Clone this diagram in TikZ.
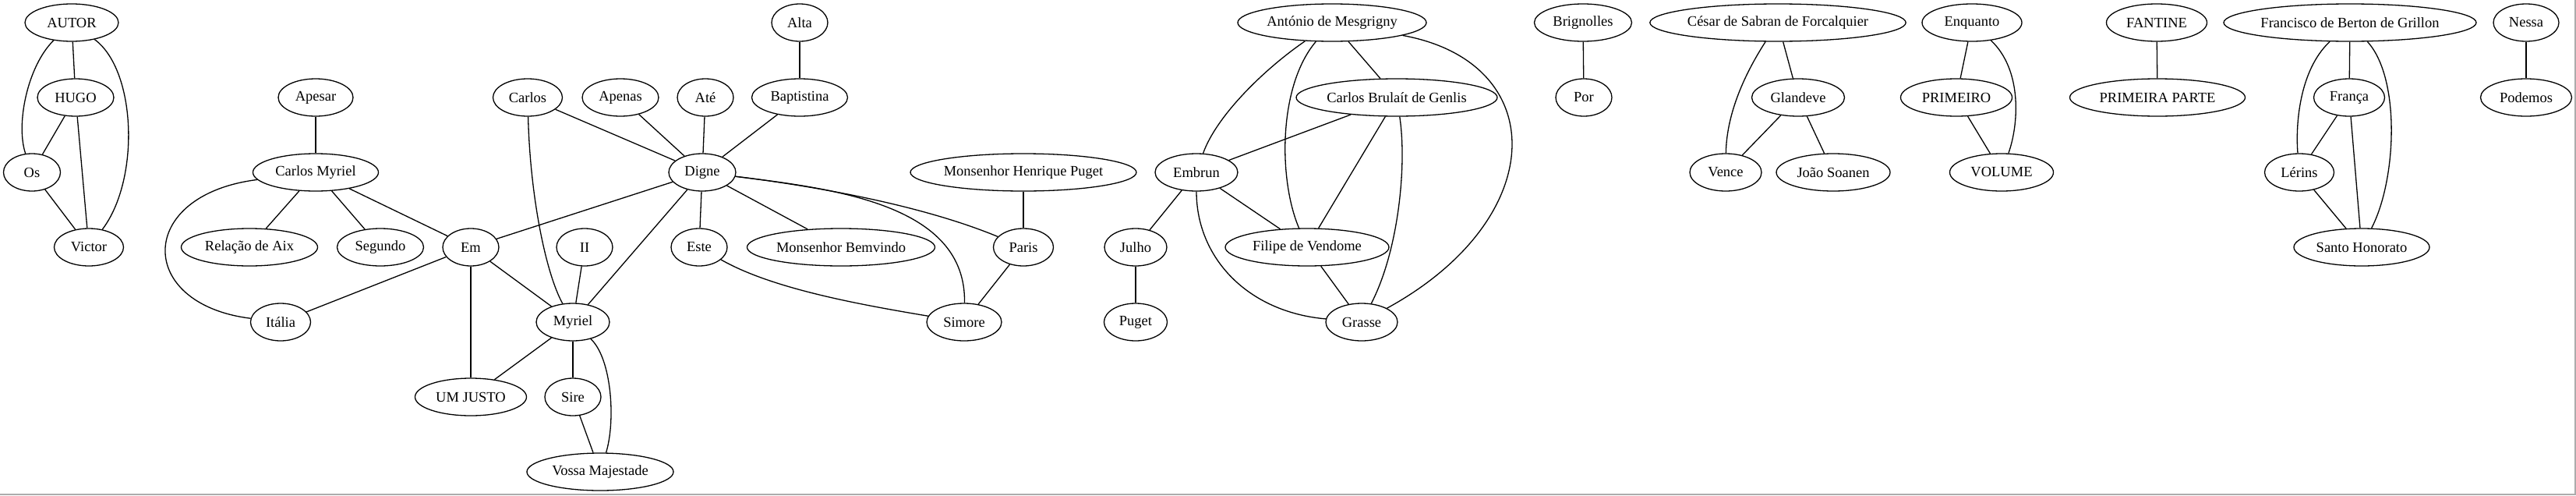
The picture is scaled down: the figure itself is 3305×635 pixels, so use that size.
\documentclass[tikz,border=0pt]{standalone}
\usepackage{fontspec}
\setmainfont{Liberation Serif}
\usetikzlibrary{shapes.geometric}
\tikzset{
  nd/.style={draw, ellipse, line width=1.3pt, inner sep=0pt, minimum height=48pt, font=\fontsize{18.5}{22}\selectfont},
  ed/.style={line width=1.3pt}
}
\newcommand\gnode[5]{\node[nd, minimum width=#4pt] (#1) at (#2,#3) {#5};}
\begin{document}
\begin{tikzpicture}[x=1pt,y=-1pt]
\useasboundingbox (0,0) rectangle (3305,635);
\fill[white] (0,0) rectangle (3305,635);
\fill[gray!65] (0,632.5) rectangle (3305,635);
\fill[gray!65] (3302.5,0) rectangle (3305,635);

\gnode{autor}{92}{29}{120}{AUTOR}
\gnode{hugo}{97}{125}{98}{HUGO}
\gnode{os}{41}{221}{73}{Os}
\gnode{victor}{114}{317}{89}{Victor}
\gnode{apesar}{405}{125}{96}{Apesar}
\gnode{cmyriel}{405}{221}{161}{Carlos Myriel}
\gnode{relacao}{320}{317}{175}{Relação de Aix}
\gnode{segundo}{488}{317}{111}{Segundo}
\gnode{em}{604}{317}{72}{Em}
\gnode{ii}{750}{317}{72}{II}
\gnode{italia}{360}{413}{77}{Itália}
\gnode{myriel}{735}{413}{94}{Myriel}
\gnode{umjusto}{604}{509}{143}{UM JUSTO}
\gnode{sire}{735}{509}{72}{Sire}
\gnode{vossa}{770}{605}{188}{Vossa Majestade}
\gnode{alta}{1026}{29}{72}{Alta}
\gnode{carlos}{677}{125}{89}{Carlos}
\gnode{apenas}{796}{125}{98}{Apenas}
\gnode{ate}{905}{125}{72}{Até}
\gnode{baptistina}{1026}{125}{123}{Baptistina}
\gnode{digne}{901}{221}{86}{Digne}
\gnode{este}{897}{317}{72}{Este}
\gnode{bemvindo}{1079}{317}{241}{Monsenhor Bemvindo}
\gnode{paris}{1313}{317}{77}{Paris}
\gnode{simore}{1237}{413}{96}{Simore}
\gnode{mhp}{1313}{221}{290}{Monsenhor Henrique Puget}
\gnode{embrun}{1535}{221}{106}{Embrun}
\gnode{antonio}{1709}{29}{242}{António de Mesgrigny}
\gnode{cbg}{1792}{125}{258}{Carlos Brulaít de Genlis}
\gnode{julho}{1457}{317}{80}{Julho}
\gnode{filipe}{1677}{317}{210}{Filipe de Vendome}
\gnode{puget}{1457}{413}{81}{Puget}
\gnode{grasse}{1747}{413}{92}{Grasse}
\gnode{brignolles}{2031}{29}{125}{Brignolles}
\gnode{por}{2032}{125}{72}{Por}
\gnode{cesar}{2281}{29}{325}{César de Sabran de Forcalquier}
\gnode{glandeve}{2307}{125}{119}{Glandeve}
\gnode{vence}{2214}{221}{92}{Vence}
\gnode{joao}{2352}{221}{146}{João Soanen}
\gnode{enquanto}{2530}{29}{128}{Enquanto}
\gnode{primeiro}{2510}{125}{143}{PRIMEIRO}
\gnode{volume}{2568}{221}{133}{VOLUME}
\gnode{fantine}{2767}{29}{129}{FANTINE}
\gnode{pparte}{2768}{125}{225}{PRIMEIRA PARTE}
\gnode{francisco}{3015}{29}{321}{Francisco de Berton de Grillon}
\gnode{franca}{3014}{125}{91}{França}
\gnode{lerins}{2950}{221}{89}{Lérins}
\gnode{santo}{3030}{317}{174}{Santo Honorato}
\gnode{nessa}{3241}{29}{84}{Nessa}
\gnode{podemos}{3241}{125}{117}{Podemos}

% straight edges
\draw[ed] (autor) -- (hugo);
\draw[ed] (hugo) -- (os);
\draw[ed] (hugo) -- (victor);
\draw[ed] (os) -- (victor);
\draw[ed] (apesar) -- (cmyriel);
\draw[ed] (cmyriel) -- (relacao);
\draw[ed] (cmyriel) -- (segundo);
\draw[ed] (cmyriel) -- (em);
\draw[ed] (em) -- (italia);
\draw[ed] (em) -- (umjusto);
\draw[ed] (em) -- (myriel);
\draw[ed] (digne) -- (em);
\draw[ed] (ii) -- (myriel);
\draw[ed] (digne) -- (myriel);
\draw[ed] (myriel) -- (umjusto);
\draw[ed] (myriel) -- (sire);
\draw[ed] (sire) -- (vossa);
\draw[ed] (carlos) -- (digne);
\draw[ed] (apenas) -- (digne);
\draw[ed] (ate) -- (digne);
\draw[ed] (baptistina) -- (digne);
\draw[ed] (alta) -- (baptistina);
\draw[ed] (digne) -- (este);
\draw[ed] (digne) -- (bemvindo);
\draw[ed] (mhp) -- (paris);
\draw[ed] (paris) -- (simore);
\draw[ed] (antonio) -- (cbg);
\draw[ed] (cbg) -- (embrun);
\draw[ed] (cbg) -- (filipe);
\draw[ed] (embrun) -- (julho);
\draw[ed] (embrun) -- (filipe);
\draw[ed] (julho) -- (puget);
\draw[ed] (filipe) -- (grasse);
\draw[ed] (brignolles) -- (por);
\draw[ed] (cesar) -- (glandeve);
\draw[ed] (glandeve) -- (vence);
\draw[ed] (glandeve) -- (joao);
\draw[ed] (enquanto) -- (primeiro);
\draw[ed] (primeiro) -- (volume);
\draw[ed] (fantine) -- (pparte);
\draw[ed] (francisco) -- (franca);
\draw[ed] (franca) -- (lerins);
\draw[ed] (franca) -- (santo);
\draw[ed] (lerins) -- (santo);
\draw[ed] (nessa) -- (podemos);

% curved edges
\draw[ed] (autor) .. controls (35,85) and (20,160) .. (os);
\draw[ed] (autor) .. controls (175,90) and (180,230) .. (victor);
\draw[ed] (cmyriel) .. controls (174,250) and (174,390) .. (italia);
\draw[ed] (carlos) .. controls (680,250) and (700,350) .. (myriel);
\draw[ed] (myriel) .. controls (785,460) and (790,540) .. (vossa);
\draw[ed] (digne) .. controls (1040,238) and (1180,262) .. (paris);
\draw[ed] (digne) .. controls (1070,242) and (1240,262) .. (simore);
\draw[ed] (este) .. controls (990,370) and (1100,390) .. (simore);
\draw[ed] (embrun) .. controls (1535,330) and (1600,400) .. (grasse);
\draw[ed] (antonio) .. controls (1620,90) and (1560,150) .. (embrun);
\draw[ed] (antonio) .. controls (1640,110) and (1640,230) .. (filipe);
\draw[ed] (antonio) .. controls (1990,80) and (1990,280) .. (grasse);
\draw[ed] (cbg) .. controls (1805,210) and (1795,320) .. (grasse);
\draw[ed] (cesar) .. controls (2235,100) and (2215,150) .. (vence);
\draw[ed] (enquanto) .. controls (2595,90) and (2590,160) .. (volume);
\draw[ed] (francisco) .. controls (2950,90) and (2945,160) .. (lerins);
\draw[ed] (francisco) .. controls (3080,100) and (3075,230) .. (santo);
\end{tikzpicture}
\end{document}
